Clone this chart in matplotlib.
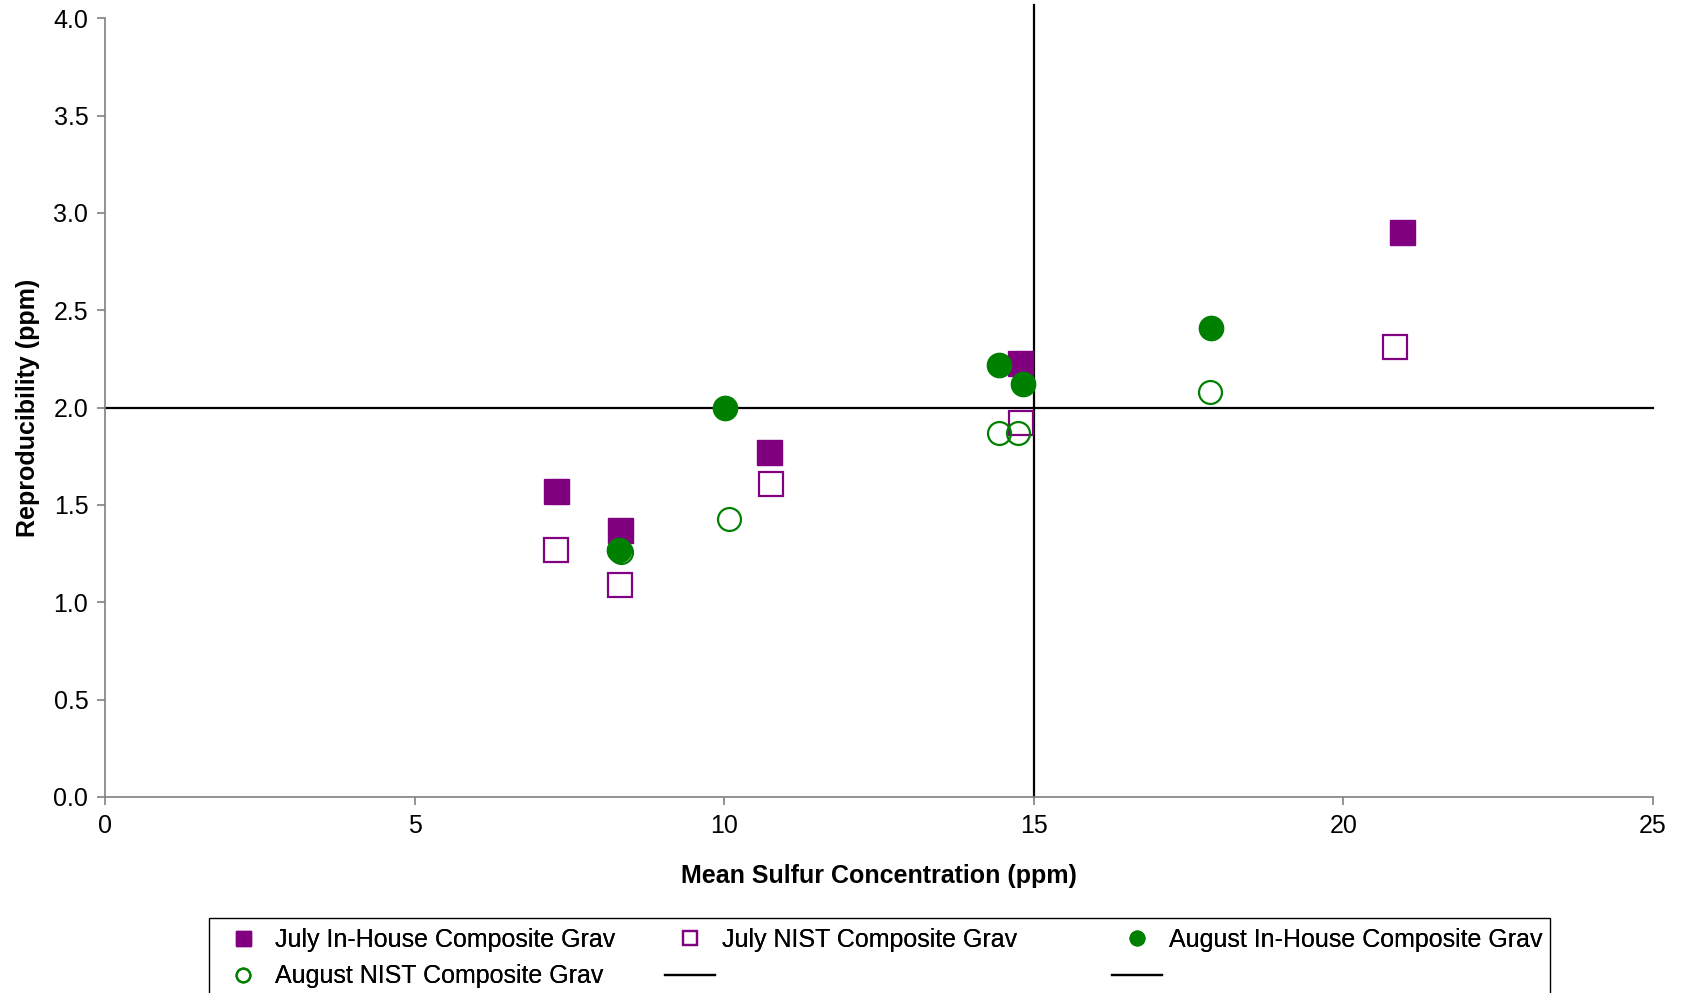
import matplotlib
matplotlib.use('Agg')
import matplotlib.pyplot as plt
from matplotlib.patches import Rectangle

plt.rcParams['font.family'] = ['Liberation Sans', 'DejaVu Sans']

# data
july_inhouse_x = [7.29, 8.32, 10.72, 14.78, 20.95]
july_inhouse_y = [1.57, 1.37, 1.77, 2.23, 2.90]
july_nist_x = [7.29, 8.32, 10.76, 14.80, 20.84]
july_nist_y = [1.27, 1.09, 1.61, 1.92, 2.31]
aug_inhouse_x = [8.30, 10.01, 14.43, 14.83, 17.86]
aug_inhouse_y = [1.27, 2.00, 2.22, 2.12, 2.41]
aug_nist_x = [8.33, 10.07, 14.43, 14.74, 17.84]
aug_nist_y = [1.26, 1.43, 1.87, 1.87, 2.08]

# reference lines (15 ppm / 2.0 ppm)
vline_x = [15, 15]
vline_y = [0, 4.066]
hline_x = [0, 25]
hline_y = [2, 2]

purple = '#800080'
green = '#008000'
fs = 18

fig = plt.figure(figsize=(16.82, 9.93), dpi=100)
ax = fig.add_axes([105 / 1682, 196 / 993, 1548 / 1682, 778.8 / 993])

l1, = ax.plot(vline_x, vline_y, color='black', lw=1.6, clip_on=False, zorder=1)
l2, = ax.plot(hline_x, hline_y, color='black', lw=1.6, clip_on=False, zorder=1)

s1, = ax.plot(july_inhouse_x, july_inhouse_y, 's', ms=18, color=purple,
              mec=purple, ls='none', zorder=3)
s2, = ax.plot(july_nist_x, july_nist_y, 's', ms=17, mfc='none', mec=purple,
              mew=1.6, ls='none', zorder=3)
s3, = ax.plot(aug_inhouse_x, aug_inhouse_y, 'o', ms=17.5, color=green,
              mec=green, ls='none', zorder=3)
s4, = ax.plot(aug_nist_x, aug_nist_y, 'o', ms=16.5, mfc='none', mec=green,
              mew=1.6, ls='none', zorder=3)

ax.set_xlim(0, 25)
ax.set_ylim(0, 4)
ax.set_xticks([0, 5, 10, 15, 20, 25])
ax.set_yticks([0, 0.5, 1, 1.5, 2, 2.5, 3, 3.5, 4])
ax.set_yticklabels(['%.1f' % v for v in ax.get_yticks()])
for side in ['top', 'right']:
    ax.spines[side].set_visible(False)
for side in ['left', 'bottom']:
    ax.spines[side].set_color('#808080')
    ax.spines[side].set_linewidth(1.2)
ax.tick_params(direction='out', length=6, width=1.2, color='#808080',
               labelsize=fs, pad=6)

ax.set_xlabel('Mean Sulfur Concentration (ppm)', fontsize=fs,
              fontweight='bold', labelpad=19)
ax.set_ylabel('Reproducibility (ppm)', fontsize=fs, fontweight='bold',
              labelpad=10)

# legend: three columns of equal width inside one frame
cols = [([s1, s4], ['July In-House Composite Grav', 'August NIST Composite Grav']),
        ([s2, l1], ['July NIST Composite Grav', '']),
        ([s3, l2], ['August In-House Composite Grav', ''])]
col_x = [218 / 1682, 665 / 1682, 1112 / 1682]
for (h, lab), x in zip(cols, col_x):
    leg = fig.legend(h, lab, loc='upper left', bbox_to_anchor=(x, 1 - 928 / 993),
                     frameon=False, fontsize=fs, handlelength=2.0,
                     handletextpad=0.27, borderpad=0, borderaxespad=0,
                     labelspacing=0.5, markerscale=0.6)
    fig.add_artist(leg)

fig.add_artist(Rectangle((209 / 1682, -0.05), 1341 / 1682, 0.05 + 1 - 918 / 993,
                         transform=fig.transFigure, fill=False,
                         edgecolor='black', lw=1.0))

fig.savefig('out.png', dpi=100)
